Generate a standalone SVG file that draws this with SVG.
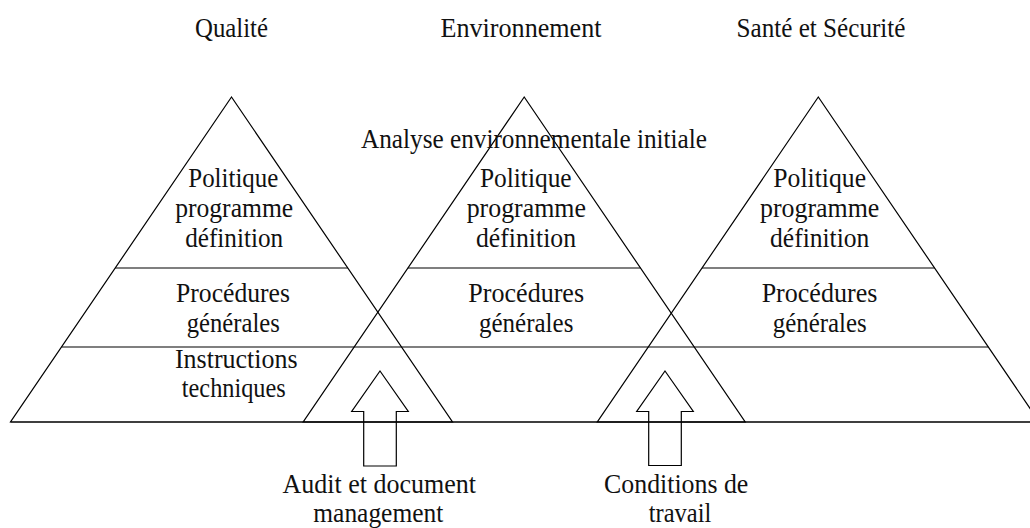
<svg xmlns="http://www.w3.org/2000/svg" width="1030" height="528" viewBox="0 0 1030 528">
  <style>
    .ln { fill: none; stroke: #000; stroke-width: 1.2; stroke-linejoin: miter; }
    .t { font-family: "Liberation Serif", "Times New Roman", serif; font-size: 27px; fill: #111; text-anchor: middle; }
  </style>
  <rect x="0" y="0" width="1030" height="528" fill="#fff"/>

  <g id="titles">
    <text class="t" x="231.5" y="37" textLength="73" lengthAdjust="spacingAndGlyphs">Qualité</text>
    <text class="t" x="521" y="37" textLength="161" lengthAdjust="spacingAndGlyphs">Environnement</text>
    <text class="t" x="821" y="37" textLength="169" lengthAdjust="spacingAndGlyphs">Santé et Sécurité</text>
  </g>

  <g id="levels">
    <line class="ln" x1="115.2" y1="268" x2="347.8" y2="268"/>
    <line class="ln" x1="407.9" y1="268" x2="640.5" y2="268"/>
    <line class="ln" x1="702" y1="268" x2="934.6" y2="268"/>
    <line class="ln" x1="61.5" y1="347" x2="988.3" y2="347"/>
    <line class="ln" x1="10.5" y1="422" x2="1030" y2="422"/>
  </g>

  <g id="pyramid-qualite">
    <polygon class="ln" points="231.5,97 10.5,422 452.5,422"/>
    <text class="t" x="233.3" y="187.3" textLength="90" lengthAdjust="spacingAndGlyphs">Politique</text>
    <text class="t" x="234.2" y="216.7" textLength="118" lengthAdjust="spacingAndGlyphs">programme</text>
    <text class="t" x="234.2" y="246.7" textLength="98" lengthAdjust="spacingAndGlyphs">définition</text>
    <text class="t" x="233" y="301.7" textLength="114" lengthAdjust="spacingAndGlyphs">Procédures</text>
    <text class="t" x="233.3" y="331.7" textLength="93" lengthAdjust="spacingAndGlyphs">générales</text>
    <text class="t" x="236.3" y="368.3" textLength="122.7" lengthAdjust="spacingAndGlyphs">Instructions</text>
    <text class="t" x="233.8" y="396.7" textLength="104" lengthAdjust="spacingAndGlyphs">techniques</text>
  </g>

  <g id="pyramid-environnement">
    <polygon class="ln" points="524.2,97 303.2,422 745.2,422"/>
    <text class="t" x="534" y="148.3" textLength="346" lengthAdjust="spacingAndGlyphs">Analyse environnementale initiale</text>
    <text class="t" x="525.8" y="186.7" textLength="91.7" lengthAdjust="spacingAndGlyphs">Politique</text>
    <text class="t" x="526.3" y="216.7" textLength="119.3" lengthAdjust="spacingAndGlyphs">programme</text>
    <text class="t" x="526" y="246.7" textLength="100" lengthAdjust="spacingAndGlyphs">définition</text>
    <text class="t" x="526.2" y="301.7" textLength="115.7" lengthAdjust="spacingAndGlyphs">Procédures</text>
    <text class="t" x="526.2" y="331.7" textLength="94.3" lengthAdjust="spacingAndGlyphs">générales</text>
  </g>

  <g id="pyramid-sante">
    <polygon class="ln" points="818.3,97 597.3,422 1039.3,422"/>
    <text class="t" x="819.7" y="186.7" textLength="92.7" lengthAdjust="spacingAndGlyphs">Politique</text>
    <text class="t" x="819.7" y="216.7" textLength="119.3" lengthAdjust="spacingAndGlyphs">programme</text>
    <text class="t" x="819.7" y="246.7" textLength="99.3" lengthAdjust="spacingAndGlyphs">définition</text>
    <text class="t" x="819.5" y="301.7" textLength="115.7" lengthAdjust="spacingAndGlyphs">Procédures</text>
    <text class="t" x="819.7" y="331.7" textLength="94" lengthAdjust="spacingAndGlyphs">générales</text>
  </g>

  <g id="connectors">
    <polygon class="ln" points="380,371 408.3,411.5 396.3,411.5 396.3,466 363.7,466 363.7,411.5 351.7,411.5"/>
    <polygon class="ln" points="665,371 693.3,411.5 681.3,411.5 681.3,465.5 648.7,465.5 648.7,411.5 636.7,411.5"/>
  </g>

  <g id="label-audit">
    <text class="t" x="379.2" y="493" textLength="193.5" lengthAdjust="spacingAndGlyphs">Audit et document</text>
    <text class="t" x="378.3" y="521.5" textLength="130" lengthAdjust="spacingAndGlyphs">management</text>
  </g>

  <g id="label-conditions">
    <text class="t" x="676.2" y="493" textLength="144.3" lengthAdjust="spacingAndGlyphs">Conditions de</text>
    <text class="t" x="680" y="521.5" textLength="62.5" lengthAdjust="spacingAndGlyphs">travail</text>
  </g>
</svg>
